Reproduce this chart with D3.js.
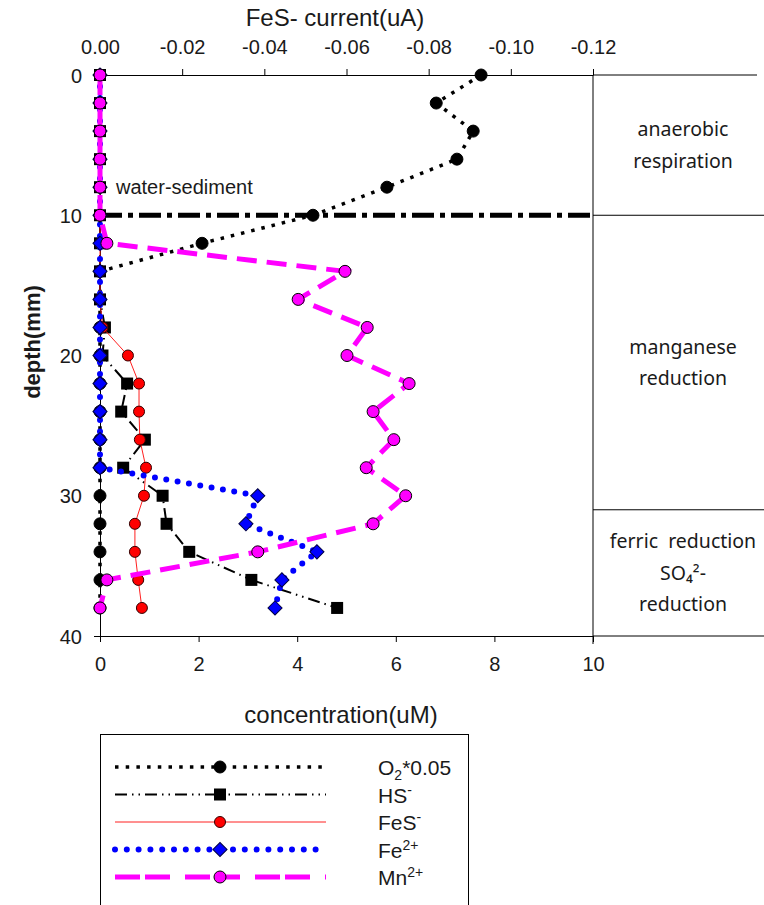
<!DOCTYPE html>
<html>
<head>
<meta charset="utf-8">
<script src="https://cdn.jsdelivr.net/npm/d3@7"></script>
<style>
  body { margin: 0; background: #fff; }
  svg { display: block; }
  text { font-family: "Liberation Sans", Arial, sans-serif; fill: #1a1a1a; }
  .zone { font-family: "Noto Sans", "Open Sans", sans-serif; font-size: 19.5px; }
</style>
</head>
<body>
<svg id="chart" width="764" height="905"></svg>
<script>
const depth = [0, 2, 4, 6, 8, 10, 12, 14, 16, 18, 20, 22, 24, 26, 28, 30, 32, 34, 36, 38];
// concentration (uM), bottom axis
const o2 = [7.73, 6.82, 7.57, 7.24, 5.82, 4.32, 2.07, 0, 0, 0, 0, 0, 0, 0, 0, 0, 0, 0, 0, 0];
const hs = [0, 0, 0, 0, 0, 0, 0, 0, 0, 0.1, 0.05, 0.55, 0.43, 0.91, 0.47, 1.27, 1.35, 1.81, 3.07, 4.81];
const fe = [0, 0, 0, 0, 0, 0, 0, 0, 0, 0, 0, 0, 0, 0, 0, 3.2, 2.96, 4.4, 3.69, 3.55];
const mn = [0, 0, 0, 0, 0, 0, 0.14, 4.97, 4.02, 5.42, 5.01, 6.27, 5.54, 5.96, 5.4, 6.2, 5.54, 3.2, 0.14, 0];
// FeS- current (uA), top axis
const fes = [0, 0, 0, 0, 0, 0, 0, 0, 0, -0.0006, -0.0068, -0.0095, -0.0095, -0.0097, -0.0112, -0.0107, -0.0085, -0.0085, -0.0093, -0.0102];

const concTicks = [0, 2, 4, 6, 8, 10];
const currentTicks = [0, -0.02, -0.04, -0.06, -0.08, -0.10, -0.12];
const depthTicks = [0, 10, 20, 30, 40];
const zoneLines = [0, 10, 31, 40];
const zones = [
  { mid: 5, cx: 683, lines: ["anaerobic", "respiration"] },
  { mid: 20.5, cx: 683, lines: ["manganese", "reduction"] },
  { mid: 35.5, cx: 683, lines: ["ferric  reduction", "SO\u2084\u00b2-", "reduction"] }
];

const svg = d3.select("#chart");
const x = d3.scaleLinear().domain([0, 10]).range([100, 593]);
const xTop = d3.scaleLinear().domain([0, -0.12]).range([100, 593]);
const y = d3.scaleLinear().domain([0, 40]).range([75, 636]);

// axes
const styleAxis = g => {
  g.selectAll("path, line").attr("stroke", "#000");
  g.selectAll("text").attr("fill", "#1a1a1a").style("font-size", "20px")
    .style("font-family", "'Liberation Sans', Arial, sans-serif");
};

svg.append("g").attr("transform", `translate(0,${y(40)})`)
  .call(d3.axisBottom(x).tickValues(concTicks).tickSize(6).tickSizeOuter(0).tickPadding(15).tickFormat(d3.format("d")))
  .call(styleAxis);

svg.append("g").attr("transform", `translate(0,${y(0)})`)
  .call(d3.axisTop(xTop).tickValues(currentTicks).tickSize(6).tickSizeOuter(0).tickPadding(15).tickFormat(d => d.toFixed(2)))
  .call(styleAxis);

svg.append("g").attr("transform", `translate(${x(0)},0)`)
  .call(d3.axisLeft(y).tickValues(depthTicks).tickSize(6).tickSizeOuter(0).tickPadding(12))
  .call(styleAxis)
  .call(g => g.selectAll("text").attr("dy", "0.35em"));

// right zone box
svg.append("line").attr("x1", x(10)).attr("x2", x(10)).attr("y1", y(0)).attr("y2", y(40) + 8)
  .attr("stroke", "#000");
svg.selectAll(".zline").data(zoneLines).enter().append("line")
  .attr("x1", x(10)).attr("x2", d => d === 0 ? 757 : 764)
  .attr("y1", d => y(d)).attr("y2", d => y(d))
  .attr("stroke", "#000");

zones.forEach(z => {
  const t = svg.append("text").attr("class", "zone").attr("text-anchor", "middle")
    .attr("xml:space", "preserve");
  const n = z.lines.length;
  z.lines.forEach((s, i) => {
    t.append("tspan").attr("x", z.cx)
      .attr("y", y(z.mid) + (i - (n - 1) / 2) * 31.5 + 7)
      .text(s);
  });
});

// axis titles
svg.append("text").attr("x", 335).attr("y", 26).attr("text-anchor", "middle")
  .style("font-size", "24px").text("FeS- current(uA)");
svg.append("text").attr("x", 341).attr("y", 723).attr("text-anchor", "middle")
  .style("font-size", "24px").text("concentration(uM)");
svg.append("text").attr("transform", `translate(40,342) rotate(-90)`)
  .attr("text-anchor", "middle").style("font-size", "22px").style("font-weight", "bold")
  .text("depth(mm)");

// water-sediment line
svg.append("line").attr("x1", x(0)).attr("x2", x(10)).attr("y1", y(10)).attr("y2", y(10))
  .attr("stroke", "#000").attr("stroke-width", 5).attr("stroke-dasharray", "22,6,5,6");
svg.append("text").attr("x", 116).attr("y", y(8) + 7).style("font-size", "20px")
  .attr("fill", "#2a2a2a").text("water-sediment");

// series
const series = [
  { name: "o2", vals: o2, sx: x, stroke: "#000", width: 3.5, dash: "3.5,7", cap: "butt", marker: "circle", fill: "#000", mstroke: "#000", r: 6 },
  { name: "hs", vals: hs, sx: x, stroke: "#000", width: 2, dash: "12,5,1.5,5,1.5,5", cap: "butt", marker: "square", fill: "#000", mstroke: "#000", r: 6 },
  { name: "fes", vals: fes, sx: xTop, stroke: "#ff2020", width: 1, dash: null, cap: "butt", marker: "circle", fill: "#ff0000", mstroke: "#330000", r: 5.5 },
  { name: "fe", vals: fe, sx: x, stroke: "#0000ff", width: 6, dash: "0,11.5", cap: "round", marker: "diamond", fill: "#0000ff", mstroke: "#000044", r: 7 },
  { name: "mn", vals: mn, sx: x, stroke: "#ff00ff", width: 5, dash: "20,10", cap: "butt", marker: "circle", fill: "#ff00ff", mstroke: "#000", r: 6 }
];

function drawMarker(g, s, cx, cy) {
  if (s.marker === "circle") {
    g.append("circle").attr("cx", cx).attr("cy", cy).attr("r", s.r)
      .attr("fill", s.fill).attr("stroke", s.mstroke).attr("stroke-width", 1);
  } else if (s.marker === "square") {
    g.append("rect").attr("x", cx - s.r).attr("y", cy - s.r).attr("width", 2 * s.r).attr("height", 2 * s.r)
      .attr("fill", s.fill);
  } else {
    g.append("path").attr("d", d3.symbol(d3.symbolSquare, 100)())
      .attr("transform", `translate(${cx},${cy}) rotate(45)`)
      .attr("fill", s.fill).attr("stroke", s.mstroke).attr("stroke-width", 1);
  }
}

series.forEach(s => {
  const pts = depth.map((d, i) => [s.sx(s.vals[i]), y(d)]);
  const g = svg.append("g").attr("class", s.name);
  g.append("path").attr("d", d3.line()(pts)).attr("fill", "none")
    .attr("stroke", s.stroke).attr("stroke-width", s.width)
    .attr("stroke-dasharray", s.dash).attr("stroke-linecap", s.cap);
  pts.forEach(p => drawMarker(g, s, p[0], p[1]));
});

// legend
const legend = svg.append("g");
legend.append("rect").attr("x", 100.5).attr("y", 734.5).attr("width", 368).attr("height", 180)
  .attr("fill", "none").attr("stroke", "#000");
const legendLabels = [
  ["O", "2", "sub", "*0.05"],
  ["HS", "-", "sup", ""],
  ["FeS", "-", "sup", ""],
  ["Fe", "2+", "sup", ""],
  ["Mn", "2+", "sup", ""]
];
const legendDash = ["3.5,7.2", "12,5,1.5,5,1.5,5", null, "0,11.8", "25,5,25,15"];
series.forEach((s, i) => {
  const ly = 767 + i * 27.5;
  legend.append("line").attr("x1", 115).attr("x2", 326).attr("y1", ly).attr("y2", ly)
    .attr("stroke", s.stroke).attr("stroke-width", s.width)
    .attr("stroke-dasharray", legendDash[i]).attr("stroke-linecap", s.cap);
  drawMarker(legend, s, 220, ly);
  const lb = legendLabels[i];
  const t = legend.append("text").attr("x", 378).attr("y", ly + 8).style("font-size", "21px");
  t.append("tspan").text(lb[0]);
  t.append("tspan").attr("dy", lb[2] === "sub" ? 5 : -8).style("font-size", "14px").text(lb[1]);
  if (lb[3]) t.append("tspan").attr("dy", -5).text(lb[3]);
});
</script>
</body>
</html>
